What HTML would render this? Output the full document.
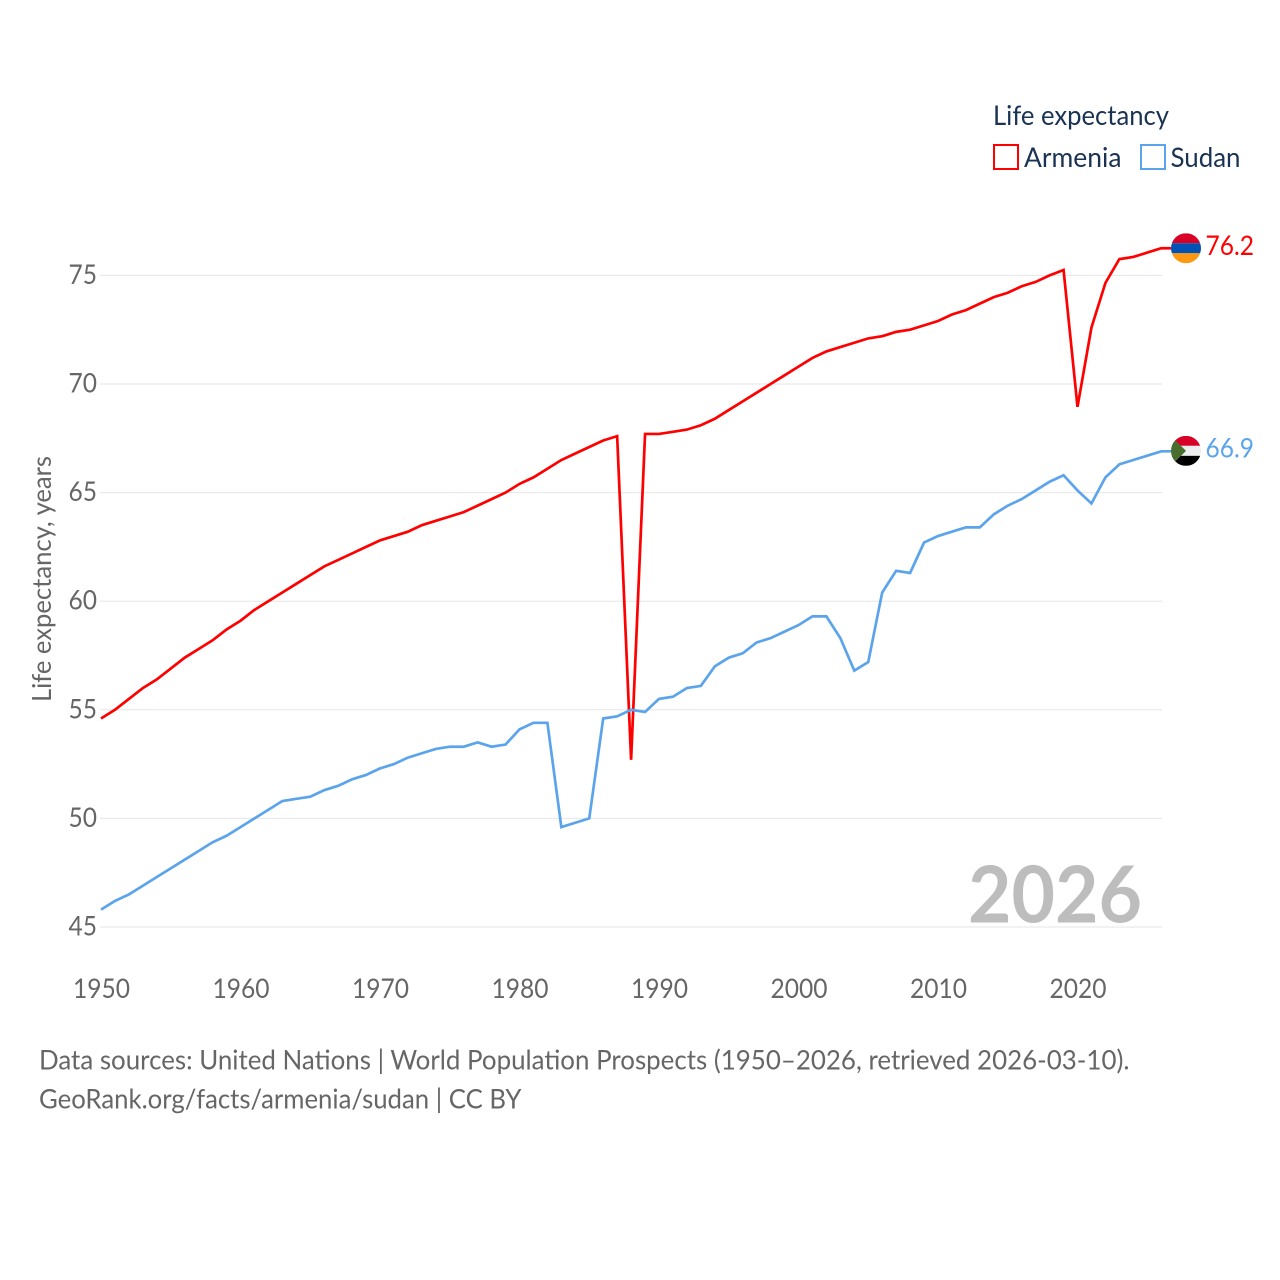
<!DOCTYPE html>
<html lang="en">
<head>
<meta charset="utf-8">
<title>Life expectancy: Armenia and Sudan</title>
<style>
  html, body { margin: 0; padding: 0; background: #ffffff; }
  #chart { display: block; width: 1280px; height: 1280px; font-family: "Lato", "Carlito", "Liberation Sans", sans-serif; }
</style>
</head>
<body>
<svg id="chart" xmlns="http://www.w3.org/2000/svg" width="1280" height="1280" viewBox="0 0 1280 1280">
  <defs>
    <clipPath id="clip-armenia"><circle cx="0" cy="0" r="15"></circle></clipPath>
    <clipPath id="clip-sudan"><circle cx="0" cy="0" r="15"></circle></clipPath>
  </defs>
  <rect x="0" y="0" width="1280" height="1280" fill="#ffffff"></rect>
  <g id="grid"></g>
  <g id="yticks"></g>
  <g id="xticks"></g>
  <text x="0" y="0" transform="translate(51,702) rotate(-90)" font-size="26" fill="#666666" textLength="246" lengthAdjust="spacingAndGlyphs">Life expectancy, years</text>
  <text x="968" y="922.5" font-size="79" font-weight="700" fill="#bdbdbd" textLength="174" lengthAdjust="spacingAndGlyphs">2026</text>
  <g id="series"></g>
  <g id="armenia-end">
    <g clip-path="url(#clip-armenia)">
      <rect x="-15" y="-15" width="30" height="10" fill="#d80027"></rect>
      <rect x="-15" y="-5" width="30" height="10" fill="#0052b4"></rect>
      <rect x="-15" y="5" width="30" height="10" fill="#ff9811"></rect>
    </g>
    <text x="19.5" y="6.5" font-size="27" fill="#ff0000" textLength="48.5" lengthAdjust="spacingAndGlyphs">76.2</text>
  </g>
  <g id="sudan-end">
    <g clip-path="url(#clip-sudan)">
      <rect x="-15" y="-15" width="30" height="10" fill="#d80027"></rect>
      <rect x="-15" y="-5" width="30" height="10" fill="#eeeeee"></rect>
      <rect x="-15" y="5" width="30" height="10" fill="#000000"></rect>
      <polygon points="-15,-15 0,0 -15,15" fill="#496e2d"></polygon>
    </g>
    <text x="19.5" y="6.5" font-size="27" fill="#5ba4ec" textLength="48.5" lengthAdjust="spacingAndGlyphs">66.9</text>
  </g>
  <g>
    <text x="993" y="125" font-size="27.5" fill="#1a3353" textLength="176" lengthAdjust="spacingAndGlyphs">Life expectancy</text>
    <g>
      <rect x="994" y="145" width="24" height="24" fill="none" stroke="#ff0000" stroke-width="2"></rect>
      <text x="1024" y="167" font-size="27.5" fill="#1a3353" textLength="97.5" lengthAdjust="spacingAndGlyphs">Armenia</text>
    </g>
    <g>
      <rect x="1141" y="145" width="24" height="24" fill="none" stroke="#5ba4ec" stroke-width="2"></rect>
      <text x="1170.5" y="167" font-size="27.5" fill="#1a3353" textLength="70" lengthAdjust="spacingAndGlyphs">Sudan</text>
    </g>
  </g>
  <text x="39" y="1069.5" font-size="27" fill="#666666" textLength="1090.5" lengthAdjust="spacingAndGlyphs">Data sources: United Nations | World Population Prospects (1950–2026, retrieved 2026-03-10).</text>
  <text x="39" y="1108.5" font-size="27" fill="#666666" textLength="482.5" lengthAdjust="spacingAndGlyphs">GeoRank.org/facts/armenia/sudan | CC BY</text>
</svg>
<script>
const firstYear = 1950;
const yTickValues = [45, 50, 55, 60, 65, 70, 75];
const xTickValues = [1950, 1960, 1970, 1980, 1990, 2000, 2010, 2020];
const armeniaValues = [
  54.6, 55.0, 55.5, 56.0, 56.4, 56.9, 57.4, 57.8, 58.2, 58.7,
  59.1, 59.6, 60.0, 60.4, 60.8, 61.2, 61.6, 61.9, 62.2, 62.5,
  62.8, 63.0, 63.2, 63.5, 63.7, 63.9, 64.1, 64.4, 64.7, 65.0,
  65.4, 65.7, 66.1, 66.5, 66.8, 67.1, 67.4, 67.6, 52.7, 67.7,
  67.7, 67.8, 67.9, 68.1, 68.4, 68.8, 69.2, 69.6, 70.0, 70.4,
  70.8, 71.2, 71.5, 71.7, 71.9, 72.1, 72.2, 72.4, 72.5, 72.7,
  72.9, 73.2, 73.4, 73.7, 74.0, 74.2, 74.5, 74.7, 75.0, 75.25,
  68.95, 72.6, 74.65, 75.75, 75.85, 76.05, 76.25
];
const sudanValues = [
  45.8, 46.2, 46.5, 46.9, 47.3, 47.7, 48.1, 48.5, 48.9, 49.2,
  49.6, 50.0, 50.4, 50.8, 50.9, 51.0, 51.3, 51.5, 51.8, 52.0,
  52.3, 52.5, 52.8, 53.0, 53.2, 53.3, 53.3, 53.5, 53.3, 53.4,
  54.1, 54.4, 54.4, 49.6, 49.8, 50.0, 54.6, 54.7, 55.0, 54.9,
  55.5, 55.6, 56.0, 56.1, 57.0, 57.4, 57.6, 58.1, 58.3, 58.6,
  58.9, 59.3, 59.3, 58.3, 56.8, 57.2, 60.4, 61.4, 61.3, 62.7,
  63.0, 63.2, 63.4, 63.4, 64.0, 64.4, 64.7, 65.1, 65.5, 65.8,
  65.1, 64.5, 65.7, 66.3, 66.5, 66.7, 66.9
];

const SVG_NS = 'http://www.w3.org/2000/svg';
const xScale = function (year) { return 101 + (year - 1950) * 13.95; };
const yScale = function (value) { return 927 - (value - 45) * 21.72; };

const gridGroup = document.getElementById('grid');
const yTickGroup = document.getElementById('yticks');
const xTickGroup = document.getElementById('xticks');
const seriesGroup = document.getElementById('series');

yTickValues.forEach(function (value) {
  const gridline = document.createElementNS(SVG_NS, 'line');
  gridline.setAttribute('x1', 100);
  gridline.setAttribute('x2', 1162);
  gridline.setAttribute('y1', yScale(value));
  gridline.setAttribute('y2', yScale(value));
  gridline.setAttribute('stroke', '#e6e6e6');
  gridline.setAttribute('stroke-width', 1);
  
  
  gridGroup.appendChild(gridline);

  const label = document.createElementNS(SVG_NS, 'text');
  label.setAttribute('x', 68.5);
  label.setAttribute('y', yScale(value) + 8.5);
  label.setAttribute('font-size', 27);
  label.setAttribute('fill', '#666666');
  label.setAttribute('textLength', 28.5);
  label.setAttribute('lengthAdjust', 'spacingAndGlyphs');
  
  
  label.textContent = String(value);
  yTickGroup.appendChild(label);
});

xTickValues.forEach(function (year) {
  const label = document.createElementNS(SVG_NS, 'text');
  label.setAttribute('x', xScale(year) - 28);
  label.setAttribute('y', 998);
  label.setAttribute('font-size', 27);
  label.setAttribute('fill', '#666666');
  label.setAttribute('textLength', 57);
  label.setAttribute('lengthAdjust', 'spacingAndGlyphs');
  
  
  label.textContent = String(year);
  xTickGroup.appendChild(label);
});

function buildPoints(values) {
  const points = values.map(function (value, index) {
    return xScale(firstYear + index).toFixed(2) + ',' + yScale(value).toFixed(2);
  });
  const lastY = yScale(values[values.length - 1]).toFixed(2);
  points.push('1171,' + lastY);
  return points.join(' ');
}

const armeniaLine = document.createElementNS(SVG_NS, 'polyline');
armeniaLine.setAttribute('points', buildPoints(armeniaValues));
armeniaLine.setAttribute('fill', 'none');
armeniaLine.setAttribute('stroke', '#ff0000');
armeniaLine.setAttribute('stroke-width', 2.7);
armeniaLine.setAttribute('stroke-linejoin', 'miter');


seriesGroup.appendChild(armeniaLine);

const sudanLine = document.createElementNS(SVG_NS, 'polyline');
sudanLine.setAttribute('points', buildPoints(sudanValues));
sudanLine.setAttribute('fill', 'none');
sudanLine.setAttribute('stroke', '#5ba4ec');
sudanLine.setAttribute('stroke-width', 2.7);
sudanLine.setAttribute('stroke-linejoin', 'miter');


seriesGroup.appendChild(sudanLine);

document.getElementById('armenia-end').setAttribute('transform', 'translate(1186,' + yScale(armeniaValues[armeniaValues.length - 1]) + ')');
document.getElementById('sudan-end').setAttribute('transform', 'translate(1186,' + (yScale(sudanValues[sudanValues.length - 1]) - 0.5) + ')');
</script>
</body>
</html>
